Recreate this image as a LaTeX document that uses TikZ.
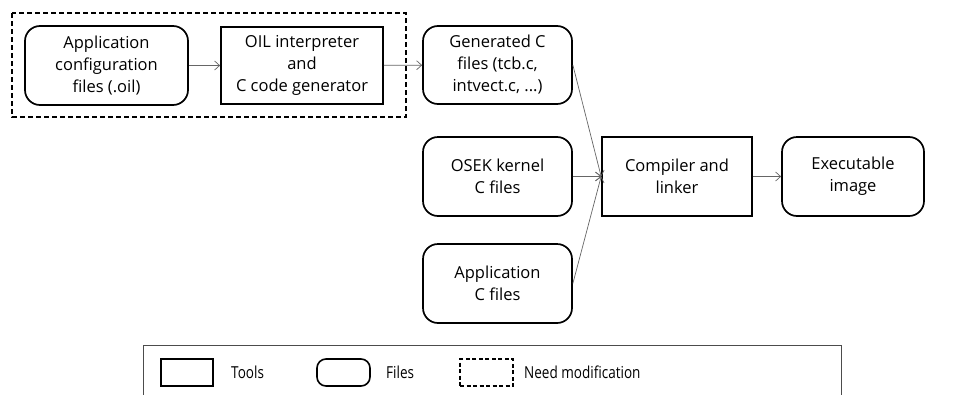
\documentclass[tikz,border=0pt]{standalone}
\usepackage{fontspec}
\setmainfont{Open Sans}
\usetikzlibrary{arrows.meta}
\begin{document}
\begin{tikzpicture}[x=1pt,y=-1pt,
  box/.style={draw=black,line width=1.7pt,align=center,inner sep=0pt,
    font=\fontsize{16.5}{22}\selectfont,text=black},
  file/.style={box,rounded corners=15pt},
  tool/.style={box},
  conn/.style={draw=black!60,line width=0.7pt,-{Straight Barb[length=5pt,width=9pt]}},
  leg/.style={font=\fontsize{16.5}{20}\selectfont,text=black,inner sep=0pt,anchor=west}]
\clip (0,0) rectangle (972,394);
\useasboundingbox (0,0) rectangle (972,394);
\fill[white] (0,0) rectangle (972,394);
% dashed group
\draw[line width=1.6pt,dash pattern=on 5pt off 3pt] (12,13) rectangle (406,117);
\node[file,minimum width=163pt,minimum height=79pt] (app) at (106.5,65.5) {Application\\configuration\\files (.oil)};
\node[tool,minimum width=162pt,minimum height=77pt] (oil) at (302,65.5) {OIL interpreter\\and\\C code generator};
\node[file,minimum width=149pt,minimum height=78pt] (gen) at (497.5,65) {Generated C\\files (tcb.c,\\intvect.c, ...)};
\node[file,minimum width=149pt,minimum height=79pt] (osek) at (497.5,176.5) {OSEK kernel\\C files};
\node[file,minimum width=149pt,minimum height=79pt] (appc) at (497.5,283.5) {Application\\C files};
\node[tool,minimum width=150pt,minimum height=79pt] (comp) at (677,176.5) {Compiler and\\linker};
\node[file,minimum width=142pt,minimum height=79pt] (exe) at (853,176.5) {Executable\\image};
\draw[conn] (app) -- (oil);
\draw[conn] (oil) -- (gen);
\draw[conn] (gen.east) -- (comp.west);
\draw[conn] (osek) -- (comp);
\draw[conn] (appc.east) -- (comp.west);
\draw[conn] (comp) -- (exe);
% legend
\draw[draw=black!70,line width=0.8pt] (143,345) rectangle (841,420);
\node[draw,line width=1.6pt,minimum width=52pt,minimum height=27pt,inner sep=0pt] (lt) at (187,372.5) {};
\node[leg] (ltt) at (231,372.5) {\scalebox{0.82}[1]{Tools}};
\node[draw,line width=1.6pt,rounded corners=9pt,minimum width=53pt,minimum height=27pt,inner sep=0pt] (lf) at (343.5,372.5) {};
\node[leg] (lft) at (386,372.5) {\scalebox{0.82}[1]{Files}};
\node[draw,line width=1.3pt,dash pattern=on 4pt off 2.5pt,minimum width=53pt,minimum height=27pt,inner sep=0pt] (ld) at (486.5,372.5) {};
\node[leg] (ldt) at (524,372.5) {\scalebox{0.82}[1]{Need modification}};
\end{tikzpicture}
\end{document}
